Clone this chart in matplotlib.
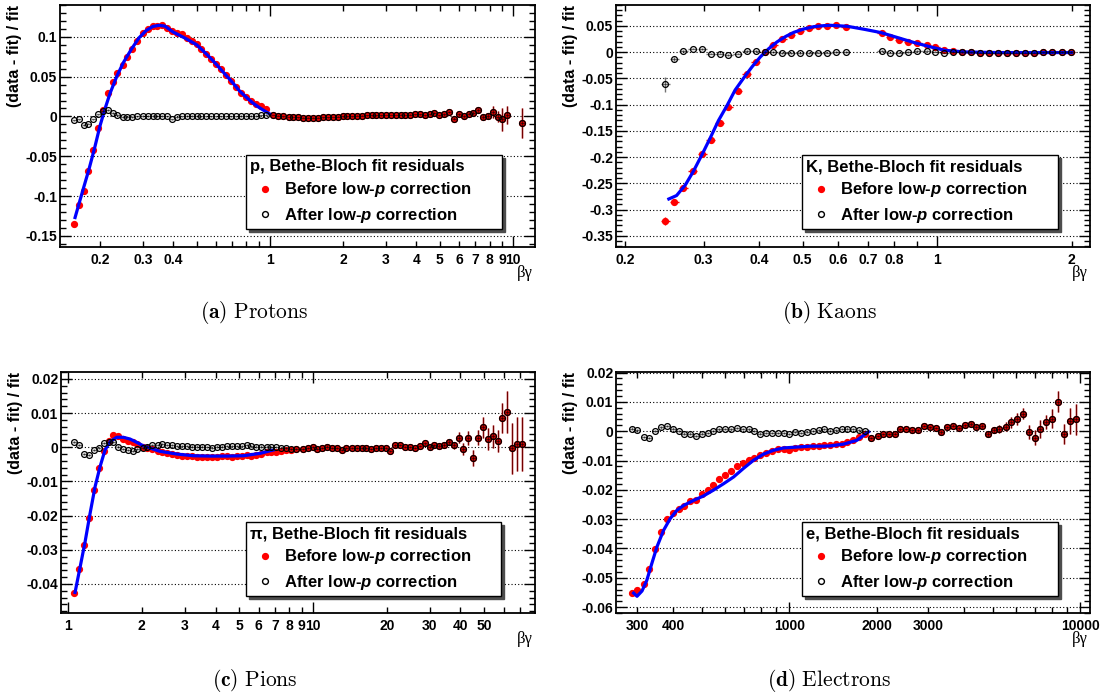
import numpy as np
import matplotlib; matplotlib.use("Agg")
import matplotlib.pyplot as plt
from matplotlib.lines import Line2D
from matplotlib.ticker import FixedLocator, FuncFormatter, MultipleLocator
from matplotlib.font_manager import FontProperties

plt.rcParams.update({"font.family": "Liberation Sans", "font.weight": "bold", "axes.unicode_minus": False,
                     "mathtext.fontset": "custom", "mathtext.rm": "Liberation Sans:bold",
                     "mathtext.bf": "Liberation Sans:bold", "mathtext.it": "Liberation Sans:italic:bold"})

# ---------------- (a) protons ----------------
xa_low = [0.157,0.164,0.172,0.179,0.188,0.197,0.205,0.215,0.226,0.236,0.248,0.259,0.272,0.285,0.300,0.314,0.329,0.343,0.360,0.376,
          0.394,0.413,0.433,0.454,0.476,0.499,0.522,0.547,0.573,0.601,0.630,0.660,0.690,0.725,0.760,0.795,0.833,0.873,0.915,0.960]
ya_bef_low = [-0.135,-0.111,-0.094,-0.069,-0.042,-0.015,0.0075,0.029,0.043,0.055,0.065,0.075,0.085,0.095,0.105,0.110,0.113,0.114,0.1146,0.111,
              0.107,0.105,0.103,0.098,0.095,0.091,0.085,0.079,0.072,0.066,0.060,0.052,0.045,0.037,0.030,0.024,0.020,0.016,0.013,0.009]
ya_aft_low = [-0.005,-0.0037,-0.011,-0.009,-0.0037,0.0025,0.0067,0.0079,0.0046,0.0021,-0.0008,-0.001,-0.0004,0.0,0.0004,0.0004,0.0004,0.0004,0.0004,0.0,
              -0.0037,-0.001,0.0,0.0004,0.0004,0.0004,0.0,0.0,0.0,0.0,0.0,0.0,0.0,0.0,0.0004,0.0004,0.0004,0.0008,0.0013,0.0017]
xa_hi = [1.032,1.082,1.135,1.197,1.247,1.308,1.372,1.438,1.508,1.581,1.658,1.739,1.822,1.899,1.991,2.081,2.183,2.274,2.384,2.499,
         2.620,2.731,2.862,3.002,3.137,3.288,3.449,3.605,3.769,3.951,4.143,4.345,4.540,4.746,4.975,5.216,5.451,5.717,5.974,6.266,
         6.571,6.867,7.200,7.524,7.889,8.247,8.648,9.039,9.478,10.89]
ya_hi = [0.0017,0.0008,0.0,-0.0008,-0.0008,-0.0013,-0.0017,-0.0017,-0.0017,-0.0017,-0.0013,-0.0013,-0.0008,-0.0004,0.0,0.0,0.0004,0.0008,0.0008,0.0013,
         0.0013,0.0013,0.0013,0.0017,0.0017,0.0017,0.0021,0.0017,0.0021,0.0025,0.0025,0.0013,0.0025,0.0046,0.0013,0.0025,0.0058,-0.0029,0.0025,0.0004,
         0.0033,0.0038,0.0079,-0.0004,0.0008,0.0058,-0.0004,-0.0038,0.0021,-0.0083]
ea_hi = [0.0005]*33 + [0.001,0.001,0.0015,0.0015,0.002,0.002,0.002,0.002,0.0025,0.003,0.003,0.004,0.0073,0.007,0.014,0.011,0.019]
fa_x = [0.158,0.17,0.18,0.19,0.2,0.21,0.22,0.235,0.25,0.27,0.29,0.31,0.33,0.35,0.37,0.40,0.45,0.5,0.55,0.6,0.65,0.7,0.75,0.8,0.85,0.9,0.95,1.0]
fa_y = [-0.127,-0.093,-0.067,-0.040,-0.012,0.010,0.029,0.051,0.068,0.085,0.099,0.108,0.1130,0.1145,0.1135,0.106,0.098,0.090,0.078,0.066,
        0.054,0.043,0.032,0.024,0.017,0.0115,0.007,0.003]

# ---------------- (b) kaons ----------------
xb = [0.246,0.258,0.270,0.284,0.298,0.311,0.326,0.341,0.358,0.375,0.393,0.412,0.430,0.450,0.470,0.493,0.517,0.542,0.568,0.593,0.624,
      0.751,0.786,0.823,0.862,0.903,0.948,0.991,1.038,1.088,1.138,1.192,1.249,1.309,1.371,1.436,1.505,1.577,1.652,1.731,1.813,1.900,1.993]
yb_bef = [-0.322,-0.286,-0.258,-0.226,-0.194,-0.168,-0.134,-0.104,-0.073,-0.042,-0.019,0.0006,0.0146,0.0247,0.0336,0.040,0.0456,0.050,0.0505,0.051,0.048,
          0.0367,0.029,0.024,0.0203,0.0177,0.0146,0.010,0.005,0.0019,0.0006,-0.0003,-0.0006,-0.0006,-0.0006,-0.0006,-0.0006,-0.0006,-0.0006,-0.0003,-0.0003,0.0,0.0]
yb_aft = [-0.0614,-0.0127,0.0025,0.007,0.0063,-0.0025,-0.0025,-0.0057,-0.0025,0.0025,0.0025,0.0,0.0,-0.001,-0.001,-0.001,-0.001,-0.0006,-0.0006,0.0,0.0,
          0.0019,-0.0006,-0.0006,0.0,0.0019,0.0032,0.0013,-0.0006,0.0,0.0,-0.0003,-0.0006,-0.0006,-0.0006,-0.0006,-0.0006,-0.0006,-0.0006,-0.0003,-0.0003,0.0,0.0]
eb_bef = [0.008,0.003] + [0.0015]*41
eb_aft = [0.015,0.004] + [0.0015]*41
fb_x = [0.2508,0.261,0.273,0.285,0.298,0.311,0.324,0.339,0.353,0.369,0.385,0.402,0.420,0.438,0.458,0.478,0.503,0.530,0.558,0.578,
        0.630,0.687,0.749,0.816,0.889,0.969,1.038,1.152,1.369,1.62,2.0]
fb_y = [-0.2795,-0.273,-0.253,-0.226,-0.194,-0.162,-0.130,-0.1007,-0.072,-0.049,-0.028,-0.0089,0.007,0.0196,0.030,0.038,0.0443,0.0488,0.0507,0.0513,
        0.0494,0.0437,0.0374,0.0279,0.0184,0.010,0.0038,0.0006,-0.0006,-0.0006,-0.0006]

# ---------------- (c) pions ----------------
xc_low = [1.058,1.109,1.162,1.218,1.277,1.334,1.399,1.465,1.531,1.606,1.68,1.76,1.84,1.92,2.02,2.11,2.21,2.32,2.43,2.54,2.66,2.79,2.92,
          3.06,3.21,3.36,3.52,3.69,3.87,4.05,4.24,4.45,4.66,4.88,5.11,5.36,5.61,5.88,6.16,6.46,6.77,7.09,7.43,7.78,8.15,8.54]
yc_bef_low = [-0.0426,-0.0356,-0.0287,-0.0207,-0.0126,-0.0062,-0.001,0.0019,0.0036,0.0033,0.0025,0.0019,0.0014,0.001,0.0002,-0.0001,-0.0005,-0.001,
              -0.0015,-0.0018,-0.002,-0.0023,-0.0025,-0.0025,-0.0026,-0.0028,-0.0028,-0.0028,-0.0029,-0.0028,-0.0026,-0.0026,-0.0028,-0.0026,-0.0026,
              -0.0023,-0.0026,-0.0023,-0.002,-0.0015,-0.0013,-0.0015,-0.001,-0.0008,-0.0008,-0.0006]
yc_aft_low = [0.0015,0.0007,-0.0019,-0.0022,-0.0008,-0.0001,0.0012,0.0014,0.0015,0.0002,-0.0006,-0.0008,-0.001,-0.0006,-0.0003,0.0002,0.0006,0.0006,
              0.0008,0.0006,0.0006,0.0004,0.0004,0.0004,0.0002,0.0002,0.0002,0.0,-0.0001,0.0002,0.0002,0.0004,0.0004,0.0004,0.0004,0.0006,0.0004,
              0.0002,0.0002,0.0002,0.0,0.0,-0.0002,-0.0003,-0.0005,-0.0005]
xc_hi = [9.08,9.52,9.97,10.4,10.9,11.43,11.97,12.5,13.1,13.7,14.4,15.1,15.8,16.5,17.3,18.1,18.9,19.8,20.7,21.7,22.7,23.8,24.9,26.1,27.3,
         28.6,29.9,31.3,32.8,34.3,35.9,37.6,39.4,41.1,43.1,45.1,47.2,49.4,51.7,54.2,56.7,59.2,62.1,64.9,68.0,71.2]
yc_hi = [-0.0006,-0.0002,0.0,-0.0004,-0.0001,0.0002,-0.0002,-0.0003,-0.0007,-0.0002,-0.0002,-0.0003,-0.0001,-0.0002,-0.0005,-0.0003,-0.0003,-0.0003,
         -0.0011,0.0005,0.0007,0.0,0.0,-0.0001,0.0003,0.0011,0.0001,0.0005,0.0003,0.0007,0.0015,0.0005,0.0028,-0.0005,0.0026,-0.0032,0.0028,0.0058,
         0.0024,0.0032,0.0019,0.0085,0.0103,-0.0003,0.0009,0.0009]
ec_hi = [0.0003]*25 + [0.0004,0.0005,0.0005,0.0006,0.0007,0.001,0.0009,0.0017,0.0018,0.0021,0.0024,0.0022,0.003,0.0032,0.0034,0.0032,0.0044,
                       0.006,0.0074,0.0078,0.0078]
fc_x = [1.068,1.12,1.173,1.23,1.289,1.351,1.416,1.484,1.58,1.68,1.79,1.91,2.03,2.37,2.78,3.25,3.8,4.45,5.2,6.08,6.9]
fc_y = [-0.0425,-0.0351,-0.0278,-0.0194,-0.0116,-0.0057,-0.0008,0.0016,0.0029,0.0029,0.0024,0.0014,0.0004,-0.0012,-0.002,-0.0025,-0.0026,-0.0026,
        -0.0025,-0.0018,-0.0008]

# ---------------- (d) electrons ----------------
xd_low = [288,301,318,331,347,364,380,399,417,436,457,478,501,524,549,575,603,631,661,691,725,758,795,834,872,914,956,1002,1049,1097,
          1149,1203,1261,1319,1380,1445,1513,1584,1658,1736,1817]
yd_bef_low = [-0.0552,-0.0543,-0.0522,-0.047,-0.0403,-0.0344,-0.0301,-0.028,-0.0264,-0.0256,-0.0239,-0.0233,-0.0213,-0.0201,-0.0184,-0.0164,
              -0.0148,-0.0135,-0.0119,-0.0108,-0.0097,-0.0091,-0.0082,-0.0074,-0.0067,-0.0061,-0.006,-0.0063,-0.0056,-0.0054,-0.0054,-0.0051,
              -0.0049,-0.0048,-0.0046,-0.0045,-0.0042,-0.0037,-0.003,-0.002,-0.0008]
yd_aft_low = [0.0009,0.0003,-0.0019,-0.0022,0.0001,0.0013,0.0018,0.0009,0.0,-0.0008,-0.0008,-0.0017,-0.0008,-0.0006,0.0,0.0006,0.0007,0.0006,
              0.0011,0.0007,0.0006,0.0001,-0.0008,-0.0005,-0.0005,-0.0006,-0.0006,-0.001,-0.0002,-0.0005,-0.0002,0.0001,0.0003,0.0007,
              0.0002,0.0003,0.0007,0.0009,0.0007,0.0003,0.0]
xd_hi = [1913,2011,2098,2199,2308,2411,2528,2644,2770,2898,3034,3183,3327,3489,3662,3830,4005,4197,4389,4604,4815,5035,5277,5535,5790,
         6060,6354,6665,6967,7285,7640,8010,8380,8765,9190,9635]
yd_hi = [-0.0022,-0.0016,-0.001,-0.001,-0.0008,0.0006,0.0008,0.0003,0.0003,0.0018,0.0013,0.0011,-0.0002,0.0013,0.0019,0.001,0.002,0.0024,
         0.0015,0.0017,-0.0008,0.0005,0.0008,0.0016,0.003,0.0041,0.006,-0.0002,-0.0022,0.0008,0.0032,0.0043,0.01,-0.0008,0.0034,0.004]
ed_hi = [0.0004]*12 + [0.0006]*8 + [0.001,0.001,0.0014,0.0014,0.0019,0.002,0.0019,0.0023,0.0026,0.003,0.0024,0.0032,0.0036,0.0034,0.0045,0.0054]
fd_x = [292,300,312,324,337,351,370,390,411,434,469,507,549,595,644,696,754,816,883,956,1063,1181,1312,1383,1537,1708,1873]
fd_y = [-0.0552,-0.0563,-0.0545,-0.0509,-0.0452,-0.0395,-0.0338,-0.0298,-0.027,-0.0253,-0.0236,-0.0221,-0.0201,-0.0179,-0.0156,-0.0127,
        -0.0099,-0.0078,-0.0065,-0.0057,-0.0054,-0.0051,-0.0051,-0.005,-0.0044,-0.0031,-0.0002]

W, H = 1111, 700
BIN = 0.0101  # half bin width in log10(beta*gamma)
MS = 4.2
fig = plt.figure(figsize=(W/100, H/100), dpi=100)

def box(l, t, r, b):
    return [l/W, 1-b/H, (r-l)/W, (b-t)/H]

def yfmt(v, pos):
    s = f"{v:.2f}".rstrip("0").rstrip(".")
    return "0" if s in ("-0", "0", "") else s

def panel(rect, x, yb, eb, ya, ea, fx, fy, xlim, ylim, ymaj, ymin, xmaj, xmin, xlabs, name, legrect, caption, cap_xy):
    ax = fig.add_axes(box(*rect))
    x = np.array(x); xe = [x - x*10**-BIN, x*10**BIN - x]
    ax.errorbar(x, yb, yerr=eb, xerr=xe, fmt="o", ms=MS, color="red", mec="red", ecolor="red", elinewidth=1.0, capsize=0, zorder=2)
    ax.plot(fx, fy, color="#0000ff", lw=2.3, zorder=3)
    ax.errorbar(x, ya, yerr=ea, xerr=xe, fmt="o", ms=MS, mfc="none", mec="k", mew=0.9, ecolor=(0, 0, 0, 0.55),
                elinewidth=1.0, capsize=0, zorder=4)
    ax.set_xscale("log"); ax.set_xlim(*xlim); ax.set_ylim(*ylim)
    ax.xaxis.set_major_locator(FixedLocator(xmaj)); ax.xaxis.set_minor_locator(FixedLocator(xmin))
    lab = lambda v, p: (f"{v:g}" if any(abs(v/t-1) < 1e-6 for t in xlabs) else "")
    ax.xaxis.set_major_formatter(FuncFormatter(lab)); ax.xaxis.set_minor_formatter(FuncFormatter(lab))
    ax.yaxis.set_major_locator(MultipleLocator(ymaj)); ax.yaxis.set_minor_locator(MultipleLocator(ymin))
    ax.yaxis.set_major_formatter(FuncFormatter(yfmt))
    ax.tick_params(which="both", direction="in", top=True, right=True, labelsize=10, width=1)
    ax.tick_params(which="major", length=8); ax.tick_params(which="minor", length=4.5)
    ax.tick_params(axis="x", which="both", pad=4); ax.tick_params(axis="y", pad=2)
    ax.grid(True, axis="y", which="major", ls=(0, (1, 2)), color="k", lw=0.8)
    for s in ax.spines.values(): s.set_linewidth(1.3)
    ax.text(-0.095, 1.0, "(data - fit) / fit", rotation=90, ha="center", va="top", fontsize=11.5,
            fontweight="bold", transform=ax.transAxes)
    ax.text(0.995, -0.075, "βγ", ha="right", va="top", fontsize=12, family="Liberation Serif",
            fontweight="normal", transform=ax.transAxes)
    hd = [Line2D([], [], marker="o", ls="none", color="red", ms=MS),
          Line2D([], [], marker="o", ls="none", mfc="none", mec="k", ms=MS)]
    fp = FontProperties(family="Liberation Sans", weight="bold", size=12)
    leg = ax.legend(hd, ["Before low-$p$ correction", "After low-$p$ correction"], title=name,
                    loc="upper left", bbox_to_anchor=box(*legrect), bbox_transform=fig.transFigure, mode="expand",
                    borderaxespad=0, alignment="left", prop=fp, title_fontproperties=fp, fancybox=False,
                    edgecolor="k", framealpha=1, shadow={"color": "0.3", "alpha": 1},
                    handlelength=1.75, handletextpad=0.3, borderpad=0.25, labelspacing=0.38)
    leg.get_frame().set_linewidth(1.0)
    fig.text(cap_xy[0]/W, 1-cap_xy[1]/H, caption, ha="center", va="center", fontsize=15.5, math_fontfamily="cm")
    return ax

panel((60, 5, 535, 247), xa_low + xa_hi, ya_bef_low + ya_hi, [0.001]*40 + ea_hi, ya_aft_low + ya_hi, [0.001]*40 + ea_hi,
      fa_x, fa_y, (0.137, 12.3), (-0.164, 0.14), 0.05, 0.01, [1, 10],
      [0.2, 0.3, 0.4, 0.5, 0.6, 0.7, 0.8, 0.9, 2, 3, 4, 5, 6, 7, 8, 9],
      [0.2, 0.3, 0.4, 1, 2, 3, 4, 5, 6, 7, 8, 9, 10], "p, Bethe-Bloch fit residuals", (246, 155, 502, 230),
      r"$\mathbf{(a)}\ \mathrm{Protons}$", (254, 313))
panel((616, 5, 1090, 247), xb, yb_bef, eb_bef, yb_aft, eb_aft,
      fb_x, fb_y, (0.191, 2.2), (-0.371, 0.09), 0.05, 0.01, [1],
      [0.2, 0.3, 0.4, 0.5, 0.6, 0.7, 0.8, 0.9, 2],
      [0.2, 0.3, 0.4, 0.5, 0.6, 0.7, 0.8, 1, 2], "K, Bethe-Bloch fit residuals", (802, 155, 1058, 230),
      r"$\mathbf{(b)}\ \mathrm{Kaons}$", (829, 313))
panel((61, 372, 535, 613), xc_low + xc_hi, yc_bef_low + yc_hi, [0.0003]*46 + ec_hi, yc_aft_low + yc_hi, [0.0003]*46 + ec_hi,
      fc_x, fc_y, (0.936, 80.6), (-0.0485, 0.022), 0.01, 0.002, [1, 10],
      [2, 3, 4, 5, 6, 7, 8, 9, 20, 30, 40, 50, 60, 70],
      [1, 2, 3, 4, 5, 6, 7, 8, 9, 10, 20, 30, 40, 50], "π, Bethe-Bloch fit residuals", (246, 522, 501, 597),
      r"$\mathbf{(c)}\ \mathrm{Pions}$", (255, 680))
panel((616, 372, 1090, 613), xd_low + xd_hi, yd_bef_low + yd_hi, [0.0004]*41 + ed_hi, yd_aft_low + yd_hi, [0.0004]*41 + ed_hi,
      fd_x, fd_y, (254, 10800), (-0.062, 0.0202), 0.01, 0.002, [1000, 10000],
      [300, 400, 500, 600, 700, 800, 900, 2000, 3000, 4000, 5000, 6000, 7000, 8000, 9000],
      [300, 400, 1000, 2000, 3000, 10000], "e, Bethe-Bloch fit residuals", (802, 522, 1058, 597),
      r"$\mathbf{(d)}\ \mathrm{Electrons}$", (829, 680))

fig.savefig("out.png", dpi=100)
